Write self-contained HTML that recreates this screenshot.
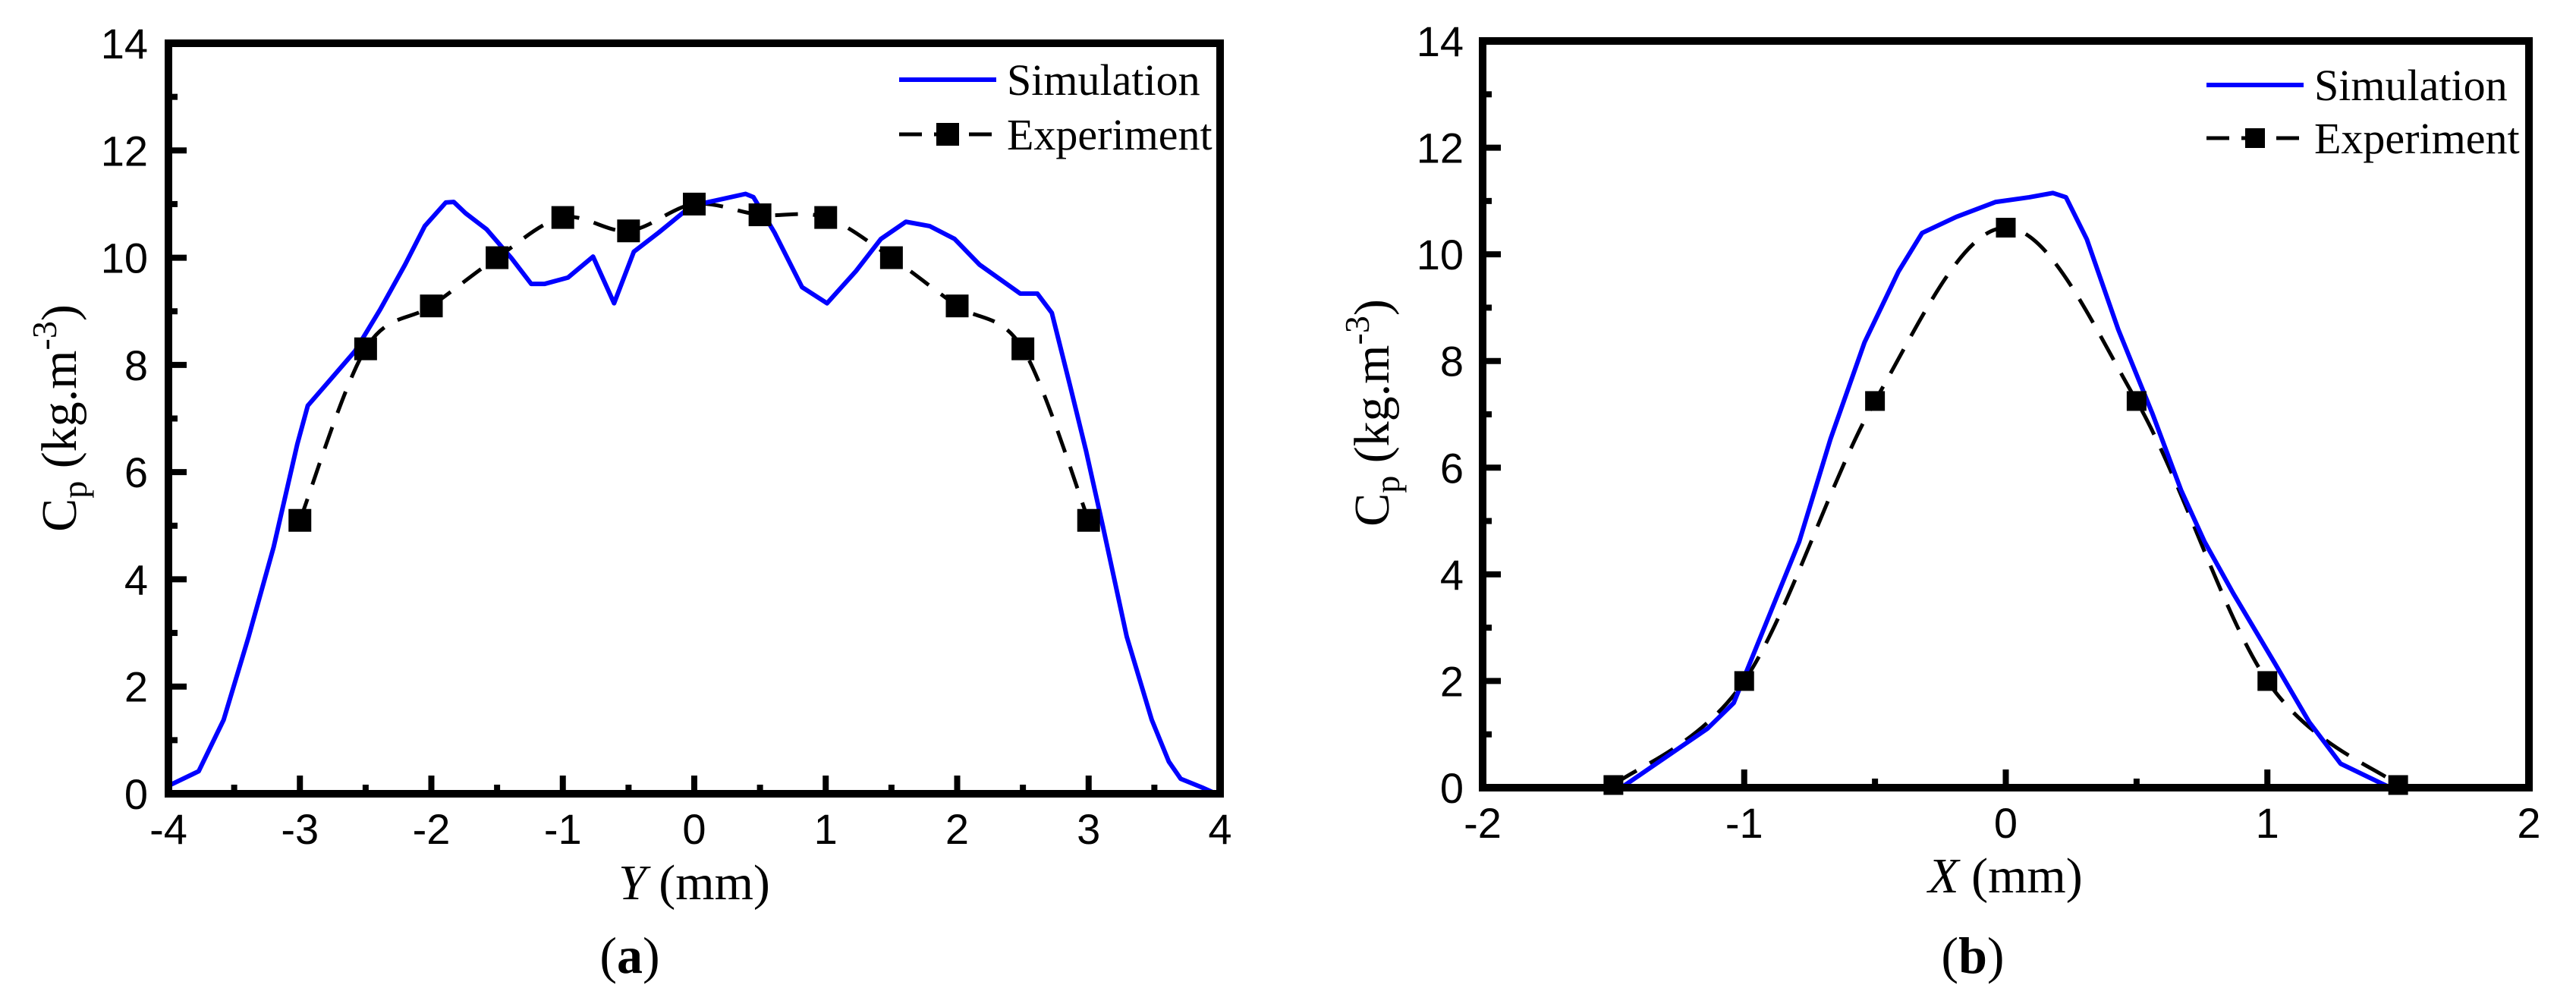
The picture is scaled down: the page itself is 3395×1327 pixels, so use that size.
<!DOCTYPE html>
<html><head><meta charset="utf-8"><style>
html,body{margin:0;padding:0;background:#fff;}
svg{display:block;}
.tick{font-family:"Liberation Sans",Arial,sans-serif;font-size:56px;fill:#000;}
.serif{font-family:"Liberation Serif","Times New Roman",serif;fill:#000;}
</style></head><body>
<svg id="fig" width="3395" height="1327" viewBox="0 0 3395 1327" xmlns="http://www.w3.org/2000/svg"></svg>
<script>
// Panel (a)
const aSimX = [-3.99,-3.77,-3.58,-3.39,-3.2,-3.02,-2.94,-2.77,-2.58,-2.39,-2.2,-2.05,-1.89,-1.83,-1.74,-1.58,-1.39,-1.24,-1.14,-0.96,-0.77,-0.61,-0.46,-0.27,-0.02,0.17,0.39,0.45,0.61,0.82,1.01,1.23,1.42,1.61,1.79,1.98,2.17,2.48,2.61,2.72,2.86,2.98,3.11,3.29,3.48,3.61,3.7,3.86,3.97];
const aSimY = [0.16,0.42,1.38,2.93,4.6,6.52,7.24,7.72,8.26,9.03,9.87,10.59,11.03,11.04,10.83,10.53,9.99,9.51,9.51,9.63,10.02,9.15,10.11,10.47,10.97,11.07,11.19,11.13,10.47,9.45,9.15,9.75,10.35,10.67,10.59,10.35,9.87,9.33,9.33,8.97,7.6,6.4,4.97,2.93,1.38,0.6,0.28,0.12,0];
const aExpX = [-3,-2.5,-2,-1.5,-1,-0.5,0,0.5,1,1.5,2,2.5,3];
const aExpY = [5.1,8.3,9.1,10,10.75,10.5,11,10.8,10.75,10,9.1,8.3,5.1];
const aXTicks = [-4,-3,-2,-1,0,1,2,3,4];
// Panel (b)
const bSimX = [-2,-1.47,-1.14,-1.04,-0.92,-0.79,-0.67,-0.54,-0.41,-0.32,-0.19,-0.04,0.09,0.18,0.23,0.31,0.43,0.56,0.67,0.76,0.87,1.03,1.16,1.28,1.47,2];
const bSimY = [0,0,1.11,1.59,3.04,4.61,6.54,8.35,9.68,10.4,10.7,10.98,11.07,11.15,11.07,10.28,8.59,7.02,5.58,4.61,3.64,2.32,1.23,0.45,0,0];
const bExpX = [-1.5,-1,-0.5,0,0.5,1,1.5];
const bExpY = [0.05,2,7.25,10.5,7.25,2,0.05];
const bXTicks = [-2,-1,0,1,2];
const yTicks = [0,2,4,6,8,10,12,14];

const NS="http://www.w3.org/2000/svg";
const svg=document.getElementById('fig');
function mk(tag,attrs,parent){const e=document.createElementNS(NS,tag);for(const k in attrs)e.setAttribute(k,attrs[k]);(parent||svg).appendChild(e);return e;}

function spline(pts){
  let d='M'+pts[0][0]+','+pts[0][1];
  for(let i=0;i<pts.length-1;i++){
    const p0=pts[Math.max(0,i-1)],p1=pts[i],p2=pts[i+1],p3=pts[Math.min(pts.length-1,i+2)];
    const t=0.5/3;
    const c1=[p1[0]+(p2[0]-p0[0])*t,p1[1]+(p2[1]-p0[1])*t];
    const c2=[p2[0]-(p3[0]-p1[0])*t,p2[1]-(p3[1]-p1[1])*t];
    d+=' C'+c1[0]+','+c1[1]+' '+c2[0]+','+c2[1]+' '+p2[0]+','+p2[1];
  }
  return d;
}

function panel(c){
  const g=mk('g',{});
  
  
  const sx=v=>c.L+(v-c.xmin)/(c.xmax-c.xmin)*(c.R-c.L);
  const sy=v=>c.B-(v/14)*(c.B-c.T);
  const tg=mk('g',{},g);
  
  
  yTicks.forEach(v=>{
    mk('line',{x1:c.L,x2:c.L+24,y1:sy(v),y2:sy(v),stroke:'#000','stroke-width':8},tg);
    const t=mk('text',{x:c.ylabX,y:sy(v)+20,'text-anchor':'end',class:'tick'},tg);
    t.textContent=v;
    
    
    if(v<14) mk('line',{x1:c.L,x2:c.L+12,y1:sy(v+1),y2:sy(v+1),stroke:'#000','stroke-width':8},tg);
  });
  c.xticks.forEach((v,i)=>{
    mk('line',{x1:sx(v),x2:sx(v),y1:c.B,y2:c.B-24,stroke:'#000','stroke-width':8},tg);
    const t=mk('text',{x:sx(v),y:c.B+66,'text-anchor':'middle',class:'tick'},tg);
    t.textContent=v;
    
    
    if(i<c.xticks.length-1){const m=(v+c.xticks[i+1])/2;mk('line',{x1:sx(m),x2:sx(m),y1:c.B,y2:c.B-12,stroke:'#000','stroke-width':8},tg);}
  });
  const ep=c.ex.map((x,i)=>[sx(x),sy(c.ey[i])]);
  const dl=mk('path',{d:spline(ep),fill:'none',stroke:'#000','stroke-width':5,'stroke-dasharray':c.dash},g);
  
  
  const sp=c.sx.map((x,i)=>sx(x)+','+sy(c.sy[i])).join(' ');
  const sl=mk('polyline',{points:sp,fill:'none',stroke:'#0000ff','stroke-width':6,'stroke-linejoin':'round'},g);
  
  
  c.ex.forEach((x,i)=>{
    const r=mk('rect',{x:sx(x)-c.ms/2,y:sy(c.ey[i])-c.ms/2,width:c.ms,height:c.ms,fill:'#000'},g);
    
    
  });
  const f=mk('rect',{x:c.L,y:c.T,width:c.R-c.L,height:c.B-c.T,fill:'none',stroke:'#000','stroke-width':10},g);
  
  
  const lg=mk('g',{},g);
  
  
  mk('line',{x1:c.lx,x2:c.lx+128,y1:c.ly1,y2:c.ly1,stroke:'#0000ff','stroke-width':6},lg);
  let t=mk('text',{x:c.lx+142,y:c.ly1+20,class:'serif','font-size':58},lg);t.textContent='Simulation';
  
  
  mk('line',{x1:c.lx,x2:c.lx+128,y1:c.ly2,y2:c.ly2,stroke:'#000','stroke-width':5,'stroke-dasharray':'30,16'},lg);
  mk('rect',{x:c.lx+64-c.ms/2,y:c.ly2-c.ms/2,width:c.ms,height:c.ms,fill:'#000'},lg);
  t=mk('text',{x:c.lx+142,y:c.ly2+20,class:'serif','font-size':58},lg);t.textContent='Experiment';
  
  
  t=mk('text',{x:c.xtX,y:c.xtY,'text-anchor':'middle',class:'serif','font-size':66},g);
  t.innerHTML='<tspan font-style="italic">'+c.xvar+'</tspan> (mm)';
  
  
  t=mk('text',{x:0,y:0,'text-anchor':'middle',class:'serif','font-size':66,transform:'translate('+c.ytX+','+c.ytY+') rotate(-90)'},g);
  t.innerHTML='C<tspan baseline-shift="-14" font-size="46">p</tspan> (kg.m<tspan baseline-shift="26" font-size="46">-3</tspan>)';
  
  
  t=mk('text',{x:c.capX,y:1282,'text-anchor':'middle',class:'serif','font-size':68},g);
  t.innerHTML='(<tspan font-weight="bold">'+c.cap+'</tspan>)';
  
  
}

panel({name:'panel-a',L:222,R:1608,T:57,B:1046,xmin:-4,xmax:4,xticks:aXTicks,sx:aSimX,sy:aSimY,ex:aExpX,ey:aExpY,ms:30,dash:'30,20',ylabX:195,lx:1185,ly1:105,ly2:177,xtX:915,xtY:1185,xvar:'Y',ytX:100,ytY:551,capX:830,cap:'a'});
panel({name:'panel-b',L:1954,R:3333,T:54,B:1038,xmin:-2,xmax:2,xticks:bXTicks,sx:bSimX,sy:bSimY,ex:bExpX,ey:bExpY,ms:26,dash:'36,20',ylabX:1929,lx:2908,ly1:112,ly2:182,xtX:2643,xtY:1176,xvar:'X',ytX:1830,ytY:544,capX:2600,cap:'b'});
</script>
</body></html>
